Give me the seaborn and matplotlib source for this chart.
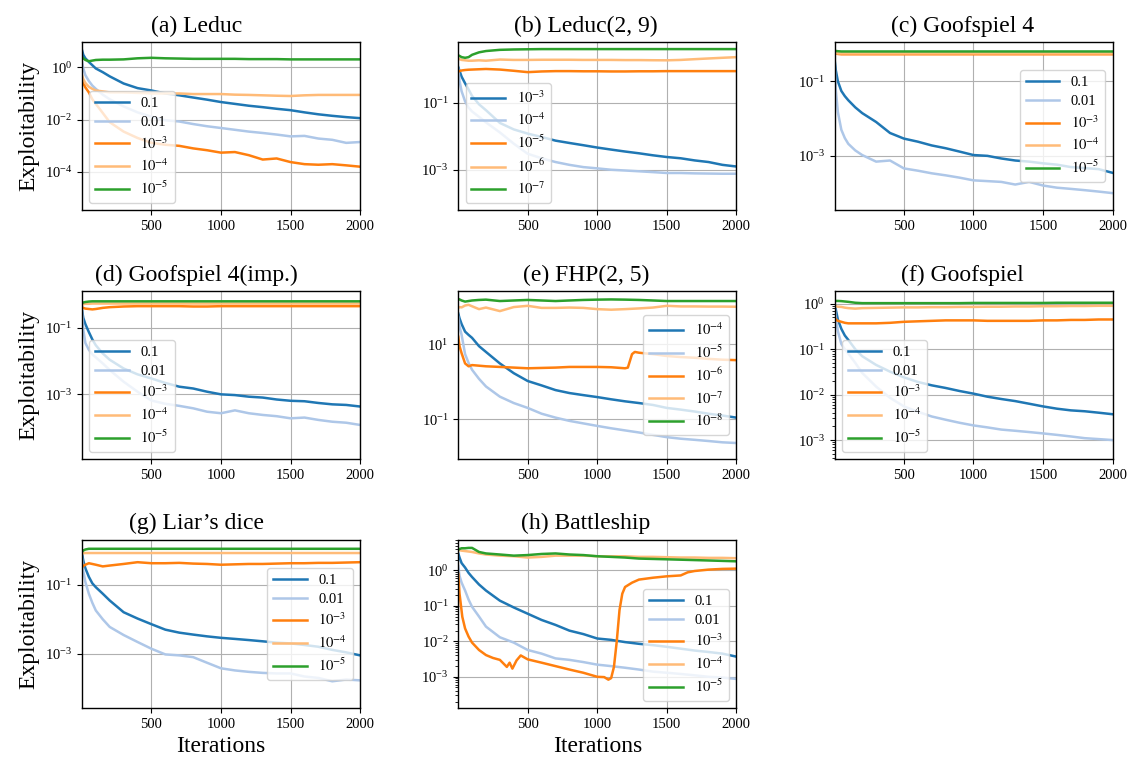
import numpy as np
import matplotlib
matplotlib.use("Agg")
import matplotlib.pyplot as plt
from matplotlib.ticker import FixedLocator, LogLocator, NullLocator, NullFormatter
import seaborn as sns

# ---------------------------------------------------------------- data
ITERS = [1, 10, 25, 50, 75, 100, 150, 200, 300, 400, 500, 600, 700, 800, 900,
         1000, 1100, 1200, 1300, 1400, 1500, 1600, 1700, 1800, 1900, 2000]

LABELS_STD = ["0.1", "0.01", r"$10^{-3}$", r"$10^{-4}$", r"$10^{-5}$"]
LABELS_LEDUC29 = [r"$10^{-3}$", r"$10^{-4}$", r"$10^{-5}$", r"$10^{-6}$", r"$10^{-7}$"]
LABELS_FHP = [r"$10^{-4}$", r"$10^{-5}$", r"$10^{-6}$", r"$10^{-7}$", r"$10^{-8}$"]

# (a) Leduc
A_01 = [4.5, 3.0, 2.2, 1.6, 1.2, 0.9, 0.65, 0.45, 0.24, 0.16, 0.13, 0.10, 0.085, 0.07, 0.058,
        0.047, 0.04, 0.034, 0.030, 0.026, 0.023, 0.019, 0.016, 0.014, 0.0125, 0.0114]
A_001 = [1.6, 0.9, 0.5, 0.3, 0.2, 0.15, 0.09, 0.06, 0.032, 0.019, 0.013, 0.0095, 0.0085, 0.0068, 0.0056,
         0.0048, 0.0041, 0.0035, 0.0031, 0.0027, 0.0023, 0.0024, 0.0019, 0.0017, 0.0013, 0.0014]
A_1e3 = [0.37, 0.25, 0.17, 0.11, 0.06, 0.04, 0.018, 0.008, 0.0035, 0.002, 0.0013, 0.0011, 0.001, 0.0008, 0.00068,
         0.00055, 0.00058, 0.00044, 0.0003, 0.00033, 0.00024, 0.0002, 0.00019, 0.0002, 0.00018, 0.00016]
A_1e4 = [0.5, 0.35, 0.25, 0.18, 0.15, 0.13, 0.12, 0.11, 0.11, 0.105, 0.1, 0.1, 0.1, 0.095, 0.095,
         0.095, 0.09, 0.088, 0.085, 0.082, 0.08, 0.085, 0.088, 0.088, 0.088, 0.088]
A_1e5 = [2.5, 2.2, 1.9, 1.7, 1.8, 1.9, 1.95, 1.95, 2.0, 2.2, 2.3, 2.2, 2.15, 2.1, 2.1,
         2.1, 2.1, 2.05, 2.05, 2.05, 2.0, 2.0, 2.0, 2.0, 2.0, 2.0]

# (b) Leduc(2, 9)
B_1e3 = [1.15, 0.9, 0.6, 0.38, 0.25, 0.16, 0.09, 0.06, 0.025, 0.016, 0.012, 0.0095, 0.0074, 0.0063, 0.0054,
         0.0046, 0.004, 0.0035, 0.0031, 0.0027, 0.0024, 0.0022, 0.0019, 0.0017, 0.0014, 0.00125]
B_1e4 = [1.0, 0.45, 0.22, 0.11, 0.072, 0.055, 0.038, 0.026, 0.013, 0.006, 0.003, 0.0022, 0.0017, 0.0014, 0.0012,
         0.0011, 0.001, 0.00095, 0.0009, 0.00085, 0.0008, 0.0008, 0.00078, 0.00077, 0.00076, 0.00076]
B_1e5 = [0.85, 0.88, 0.92, 0.95, 0.97, 0.98, 1.0, 1.02, 0.98, 0.9, 0.82, 0.86, 0.88, 0.88, 0.87,
         0.87, 0.86, 0.86, 0.87, 0.87, 0.88, 0.88, 0.88, 0.88, 0.88, 0.88]
B_1e6 = [2.1, 2.0, 1.9, 1.85, 1.8, 1.8, 1.85, 1.8, 1.95, 1.9, 1.9, 1.92, 1.92, 1.92, 1.9,
         1.9, 1.9, 1.88, 1.88, 1.86, 1.85, 1.9, 2.0, 2.1, 2.2, 2.3]
B_1e7 = [2.6, 2.5, 2.3, 2.2, 2.3, 2.7, 3.2, 3.5, 3.8, 3.9, 3.95, 4.0, 4.0, 4.0, 4.0,
         4.0, 4.0, 4.0, 4.0, 4.0, 4.0, 4.0, 4.0, 4.0, 4.0, 4.0]

# (c) Goofspiel 4
C_01 = [0.4, 0.2, 0.1, 0.055, 0.04, 0.031, 0.02, 0.014, 0.0081, 0.0041, 0.0029, 0.0024, 0.0019, 0.0016, 0.0013,
        0.00105, 0.001, 0.00085, 0.00075, 0.0007, 0.00063, 0.00058, 0.0005, 0.00047, 0.00044, 0.00035]
C_001 = [0.4, 0.06, 0.015, 0.005, 0.003, 0.0021, 0.0014, 0.00105, 0.0007, 0.00075, 0.00046, 0.0004, 0.00034, 0.0003, 0.00026,
         0.00022, 0.00021, 0.0002, 0.00017, 0.0002, 0.00016, 0.00014, 0.00013, 0.00012, 0.00011, 0.0001]
C_1e3 = [0.6, 0.56, 0.54, 0.53, 0.53, 0.53, 0.53, 0.53, 0.53, 0.53, 0.53, 0.53, 0.53, 0.53, 0.53,
         0.53, 0.53, 0.53, 0.53, 0.53, 0.53, 0.53, 0.53, 0.53, 0.53, 0.53]
C_1e4 = [0.58, 0.57, 0.56, 0.56, 0.56, 0.56, 0.56, 0.56, 0.56, 0.56, 0.56, 0.56, 0.56, 0.56, 0.56,
         0.56, 0.56, 0.56, 0.56, 0.56, 0.56, 0.56, 0.56, 0.56, 0.56, 0.56]
C_1e5 = [0.66, 0.65, 0.64, 0.63, 0.63, 0.63, 0.63, 0.63, 0.63, 0.63, 0.63, 0.63, 0.63, 0.63, 0.63,
         0.63, 0.63, 0.63, 0.63, 0.63, 0.63, 0.63, 0.63, 0.63, 0.63, 0.63]

# (d) Goofspiel 4(imp.)
D_01 = [0.34, 0.2, 0.13, 0.075, 0.045, 0.03, 0.017, 0.011, 0.006, 0.004, 0.003, 0.0022, 0.0017, 0.0015, 0.0012,
        0.001, 0.00095, 0.00085, 0.0008, 0.0007, 0.00064, 0.00062, 0.00055, 0.0005, 0.00048, 0.00043]
D_001 = [0.34, 0.09, 0.035, 0.022, 0.016, 0.013, 0.0085, 0.0054, 0.0024, 0.0012, 0.00065, 0.00052, 0.00045, 0.00038, 0.0003,
         0.00027, 0.00033, 0.00027, 0.00024, 0.00022, 0.00019, 0.0002, 0.00017, 0.00015, 0.00014, 0.00012]
D_1e3 = [0.42, 0.4, 0.38, 0.37, 0.36, 0.37, 0.4, 0.42, 0.44, 0.45, 0.45, 0.45, 0.45, 0.44, 0.44,
         0.45, 0.45, 0.45, 0.45, 0.45, 0.45, 0.45, 0.45, 0.45, 0.45, 0.45]
D_1e4 = [0.5, 0.52, 0.53, 0.53, 0.54, 0.54, 0.54, 0.54, 0.54, 0.54, 0.54, 0.54, 0.54, 0.54, 0.54,
         0.54, 0.54, 0.54, 0.54, 0.54, 0.54, 0.54, 0.54, 0.54, 0.54, 0.54]
D_1e5 = [0.56, 0.58, 0.6, 0.62, 0.63, 0.63, 0.63, 0.63, 0.63, 0.63, 0.63, 0.63, 0.63, 0.63, 0.63,
         0.63, 0.63, 0.63, 0.63, 0.63, 0.63, 0.63, 0.63, 0.63, 0.63, 0.63]

# (e) FHP(2, 5)
E_1e4 = [67, 50, 35, 22, 18, 15, 9, 6.3, 3.1, 1.7, 1.05, 0.8, 0.6, 0.5, 0.44,
         0.39, 0.34, 0.3, 0.27, 0.24, 0.2, 0.18, 0.16, 0.14, 0.125, 0.11]
E_1e5 = [55, 30, 18, 5.5, 3.2, 2.1, 1.2, 0.75, 0.4, 0.27, 0.2, 0.14, 0.11, 0.09, 0.077,
         0.066, 0.057, 0.05, 0.044, 0.038, 0.033, 0.03, 0.028, 0.026, 0.024, 0.023]
E_ITERS_1e6 = [1, 10, 25, 50, 75, 100, 200, 300, 400, 500, 600, 700, 800, 900, 1000, 1100, 1200,
               1220, 1250, 1270, 1300, 1400, 1500, 1600, 1700, 1800, 1900, 2000]
E_1e6 = [16, 9, 5.8, 3.1, 2.6, 2.8, 2.6, 2.5, 2.4, 2.3, 2.35, 2.4, 2.5, 2.5, 2.5, 2.45, 2.3,
         2.4, 5.5, 6.3, 6.0, 5.5, 4.9, 4.6, 4.4, 4.1, 3.9, 3.8]
E_1e7 = [95, 100, 98, 110, 115, 105, 88, 97, 78, 100, 108, 95, 95, 97, 95,
         88, 85, 88, 92, 97, 108, 104, 104, 103, 103, 102]
E_1e8 = [165, 160, 150, 140, 145, 150, 155, 158, 145, 150, 155, 150, 145, 150, 155,
         158, 160, 158, 155, 150, 145, 145, 145, 145, 145, 145]

# (f) Goofspiel
F_01 = [1.0, 0.75, 0.45, 0.28, 0.2, 0.16, 0.1, 0.07, 0.045, 0.032, 0.024, 0.019, 0.016, 0.014, 0.012,
        0.0105, 0.009, 0.008, 0.0072, 0.0063, 0.0055, 0.0049, 0.0045, 0.0043, 0.004, 0.0037]
F_001 = [1.0, 0.5, 0.25, 0.13, 0.1, 0.08, 0.05, 0.03, 0.015, 0.0085, 0.0055, 0.0042, 0.0033, 0.0028, 0.0024,
         0.0021, 0.0019, 0.0017, 0.0016, 0.0015, 0.0014, 0.0013, 0.0012, 0.0011, 0.00105, 0.001]
F_1e3 = [0.5, 0.45, 0.42, 0.4, 0.38, 0.37, 0.37, 0.37, 0.37, 0.38, 0.4, 0.41, 0.42, 0.43, 0.43,
         0.43, 0.42, 0.42, 0.42, 0.42, 0.43, 0.43, 0.44, 0.44, 0.45, 0.45]
F_1e4 = [0.9, 0.88, 0.86, 0.85, 0.82, 0.8, 0.78, 0.8, 0.81, 0.82, 0.83, 0.83, 0.84, 0.84, 0.85,
         0.85, 0.86, 0.86, 0.87, 0.87, 0.88, 0.88, 0.89, 0.89, 0.9, 0.9]
F_1e5 = [1.15, 1.15, 1.15, 1.14, 1.12, 1.1, 1.05, 1.03, 1.03, 1.03, 1.03, 1.03, 1.03, 1.03, 1.03,
         1.04, 1.04, 1.04, 1.04, 1.04, 1.04, 1.05, 1.05, 1.05, 1.05, 1.05]

# (g) Liar's dice
G_01 = [0.8, 0.5, 0.3, 0.17, 0.11, 0.085, 0.055, 0.035, 0.016, 0.0105, 0.0072, 0.005, 0.0041, 0.0036, 0.0032,
        0.0029, 0.0027, 0.0025, 0.0023, 0.0021, 0.002, 0.0018, 0.0016, 0.0013, 0.0011, 0.0009]
G_001 = [0.6, 0.25, 0.12, 0.055, 0.03, 0.018, 0.01, 0.006, 0.0035, 0.0022, 0.0014, 0.00096, 0.0009, 0.0008, 0.00055,
         0.00038, 0.00033, 0.0003, 0.00028, 0.00027, 0.00027, 0.00022, 0.0002, 0.00016, 0.00018, 0.00017]
G_1e3 = [0.32, 0.35, 0.38, 0.42, 0.4, 0.38, 0.34, 0.36, 0.4, 0.45, 0.42, 0.42, 0.43, 0.41, 0.4,
         0.38, 0.39, 0.4, 0.4, 0.41, 0.42, 0.42, 0.43, 0.43, 0.44, 0.45]
G_1e4 = [0.8, 0.82, 0.83, 0.83, 0.83, 0.83, 0.83, 0.83, 0.83, 0.83, 0.83, 0.83, 0.83, 0.83, 0.83,
         0.83, 0.83, 0.83, 0.83, 0.83, 0.83, 0.83, 0.83, 0.83, 0.83, 0.83]
G_1e5 = [0.9, 0.98, 1.05, 1.1, 1.1, 1.1, 1.1, 1.1, 1.1, 1.1, 1.1, 1.1, 1.1, 1.1, 1.1,
         1.1, 1.1, 1.1, 1.1, 1.1, 1.1, 1.1, 1.1, 1.1, 1.1, 1.1]

# (h) Battleship
H_01 = [3.0, 2.3, 1.6, 1.2, 0.85, 0.65, 0.4, 0.27, 0.14, 0.09, 0.06, 0.04, 0.029, 0.02, 0.016,
        0.012, 0.011, 0.0095, 0.0085, 0.0078, 0.007, 0.0062, 0.0055, 0.005, 0.0045, 0.0037]
H_001 = [1.3, 0.7, 0.45, 0.27, 0.15, 0.094, 0.05, 0.026, 0.013, 0.0092, 0.0057, 0.0045, 0.0033, 0.003, 0.0026,
         0.0022, 0.002, 0.0018, 0.0016, 0.0014, 0.0013, 0.0012, 0.0011, 0.001, 0.00095, 0.00087]
H_ITERS_1e3 = [1, 10, 30, 50, 75, 100, 150, 200, 250, 300, 350, 370, 390, 420, 450, 500, 600, 700, 800, 900,
               1000, 1050, 1080, 1100, 1120, 1140, 1160, 1180, 1200, 1250, 1300, 1400, 1500, 1600, 1650,
               1700, 1800, 1900, 2000]
H_1e3 = [0.8, 0.22, 0.049, 0.023, 0.0136, 0.0092, 0.0057, 0.0041, 0.0034, 0.003, 0.0019, 0.0025, 0.0017,
         0.0029, 0.004, 0.0031, 0.0025, 0.002, 0.0016, 0.0013, 0.001, 0.00098, 0.00083, 0.00092, 0.0019,
         0.0098, 0.076, 0.22, 0.34, 0.45, 0.55, 0.62, 0.68, 0.72, 0.88, 0.96, 1.05, 1.1, 1.12]
H_1e4 = [3.6, 3.7, 3.6, 3.5, 3.4, 3.3, 3.0, 2.8, 2.6, 2.5, 2.3, 2.4, 2.6, 2.6, 2.6,
         2.5, 2.5, 2.5, 2.4, 2.4, 2.35, 2.3, 2.3, 2.25, 2.25, 2.2]
H_1e5 = [3.8, 4.0, 4.2, 4.2, 4.3, 4.3, 3.3, 3.0, 2.8, 2.6, 2.7, 2.9, 3.0, 2.8, 2.7,
         2.5, 2.4, 2.3, 2.15, 2.1, 2.05, 2.0, 1.95, 1.9, 1.85, 1.8]

# ---------------------------------------------------------------- panels
PANELS = [
    dict(title="(a) Leduc", labels=LABELS_STD,
         series=[(ITERS, A_01), (ITERS, A_001), (ITERS, A_1e3), (ITERS, A_1e4), (ITERS, A_1e5)],
         ylim=(-5.46, 0.96), yticks=[1e-4, 1e-2, 1e0], minor=False, loc="lower left"),
    dict(title="(b) Leduc(2, 9)", labels=LABELS_LEDUC29,
         series=[(ITERS, B_1e3), (ITERS, B_1e4), (ITERS, B_1e5), (ITERS, B_1e6), (ITERS, B_1e7)],
         ylim=(-4.21, 0.81), yticks=[1e-3, 1e-1], minor=False, loc="lower left"),
    dict(title="(c) Goofspiel 4", labels=LABELS_STD,
         series=[(ITERS, C_01), (ITERS, C_001), (ITERS, C_1e3), (ITERS, C_1e4), (ITERS, C_1e5)],
         ylim=(-4.46, 0.05), yticks=[1e-3, 1e-1], minor=False, loc="center right"),
    dict(title="(d) Goofspiel 4(imp.)", labels=LABELS_STD,
         series=[(ITERS, D_01), (ITERS, D_001), (ITERS, D_1e3), (ITERS, D_1e4), (ITERS, D_1e5)],
         ylim=(-4.95, 0.11), yticks=[1e-3, 1e-1], minor=False, loc="lower left"),
    dict(title="(e) FHP(2, 5)", labels=LABELS_FHP,
         series=[(ITERS, E_1e4), (ITERS, E_1e5), (E_ITERS_1e6, E_1e6), (ITERS, E_1e7), (ITERS, E_1e8)],
         ylim=(-2.07, 2.43), yticks=[1e-1, 1e1], minor=False, loc="center right"),
    dict(title="(f) Goofspiel", labels=LABELS_STD,
         series=[(ITERS, F_01), (ITERS, F_001), (ITERS, F_1e3), (ITERS, F_1e4), (ITERS, F_1e5)],
         ylim=(-3.42, 0.28), yticks=[1e-3, 1e-2, 1e-1, 1e0], minor=True, loc="lower left"),
    dict(title="(g) Liar\u2019s dice", labels=LABELS_STD,
         series=[(ITERS, G_01), (ITERS, G_001), (ITERS, G_1e3), (ITERS, G_1e4), (ITERS, G_1e5)],
         ylim=(-4.57, 0.30), yticks=[1e-3, 1e-1], minor=False, loc="center right"),
    dict(title="(h) Battleship", labels=LABELS_STD,
         series=[(ITERS, H_01), (ITERS, H_001), (H_ITERS_1e3, H_1e3), (ITERS, H_1e4), (ITERS, H_1e5)],
         ylim=(-3.88, 0.86), yticks=[1e-3, 1e-2, 1e-1, 1e0], minor=True, loc="lower right"),
]

# ---------------------------------------------------------------- style
plt.rcParams.update({
    "font.family": ["Liberation Serif", "DejaVu Serif"],
    "mathtext.fontset": "stix",
    "axes.linewidth": 1.0,
    "axes.edgecolor": "black",
    "xtick.labelsize": 10.5,
    "ytick.labelsize": 10.5,
    "legend.fontsize": 10.5,
})
COLORS = sns.color_palette("tab20")[:5]

fig = plt.figure(figsize=(11.33, 7.66), dpi=100)
gs = fig.add_gridspec(3, 3, left=0.0724, right=0.982, top=0.945, bottom=0.0757,
                      wspace=0.353, hspace=0.48)

axes = []
for i, panel in enumerate(PANELS):
    row, col = divmod(i, 3)
    ax = fig.add_subplot(gs[row, col])
    ax.set_yscale("log")
    for (xs, ys), lab, color in zip(panel["series"], panel["labels"], COLORS):
        sns.lineplot(x=xs, y=ys, ax=ax, color=color, linewidth=1.8, label=lab,
                     legend=False)
    ax.set_xlim(1, 2000)
    ax.set_xticks([500, 1000, 1500, 2000])
    lo, hi = panel["ylim"]
    ax.set_ylim(10 ** lo, 10 ** hi)
    ax.yaxis.set_major_locator(FixedLocator(panel["yticks"]))
    if panel["minor"]:
        ax.yaxis.set_minor_locator(LogLocator(base=10, subs=np.arange(2, 10), numticks=100))
    else:
        ax.yaxis.set_minor_locator(NullLocator())
    ax.yaxis.set_minor_formatter(NullFormatter())
    ax.grid(True, which="major", color="#b0b0b0", linewidth=0.8)
    ax.set_axisbelow(True)
    ax.set_ylabel("Exploitability" if col == 0 else "", fontsize=17)
    ax.set_xlabel("Iterations" if row == 2 else "", fontsize=17)
    ax.legend(loc=panel["loc"], fontsize=10.5, handlelength=2.3, labelspacing=0.4)
    axes.append(ax)

# Captions are centred over each panel's full extent (axis labels included).
fig.canvas.draw()
renderer = fig.canvas.get_renderer()
for ax, panel in zip(axes, PANELS):
    bb = ax.get_tightbbox(renderer)
    cx = 0.5 * (bb.x0 + bb.x1)
    frac = (cx - ax.bbox.x0) / ax.bbox.width
    ax.set_title(panel["title"], fontsize=17, x=frac, pad=7.5)

fig.savefig("out.png", dpi=100)
